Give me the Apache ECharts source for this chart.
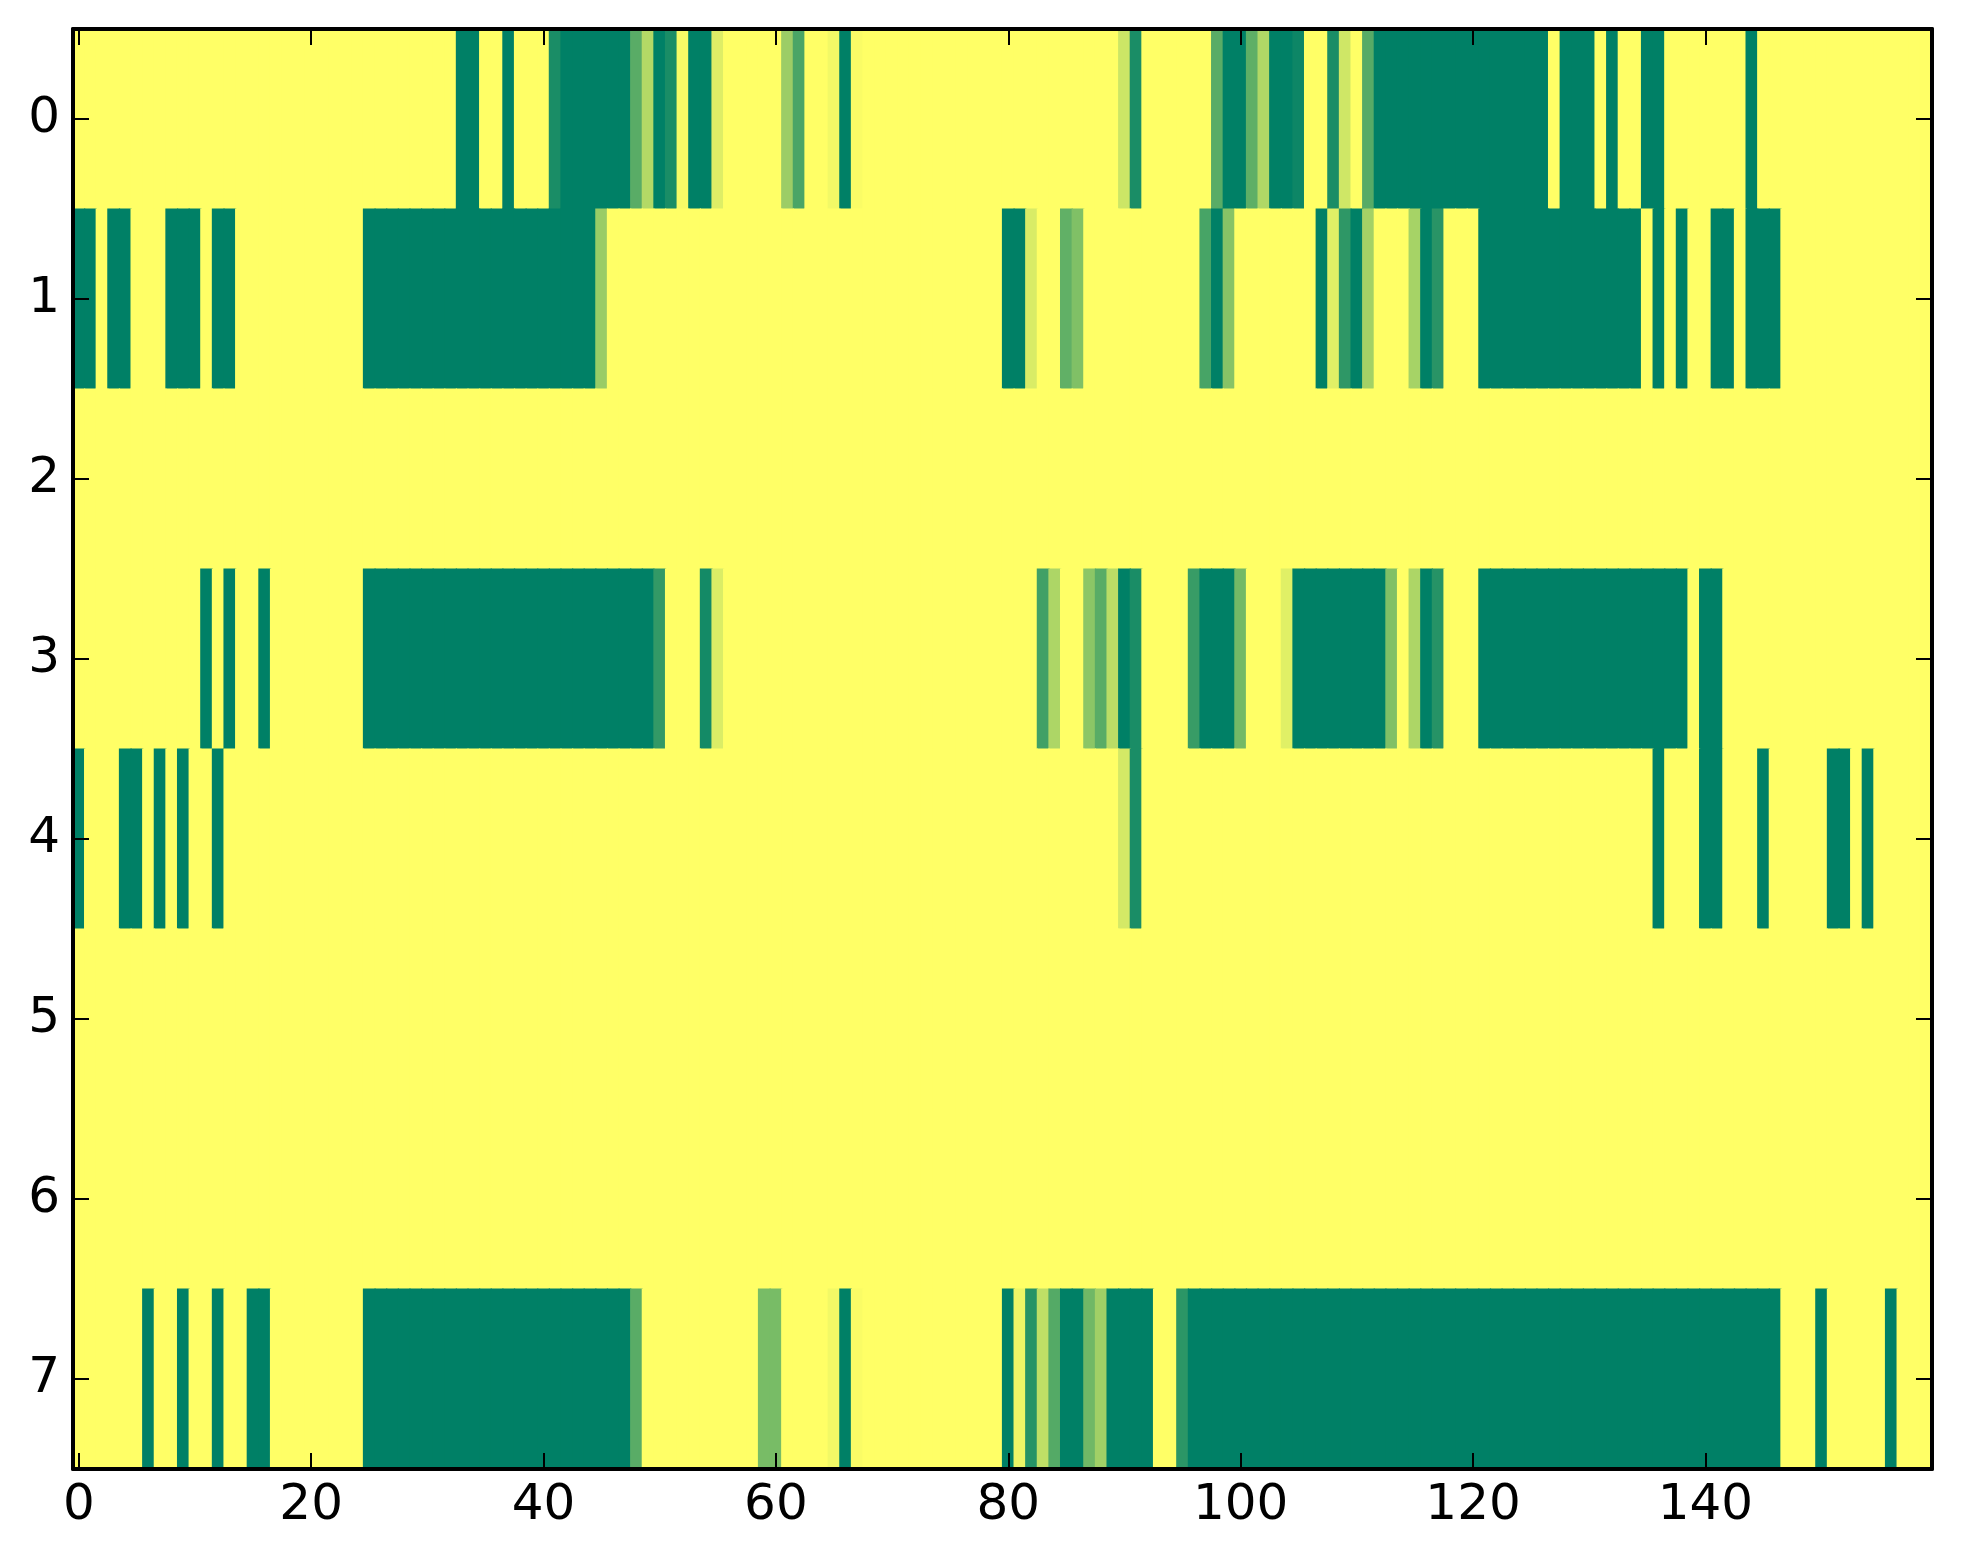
<!DOCTYPE html>
<html>
<head>
<meta charset="utf-8">
<script src="https://cdn.jsdelivr.net/npm/echarts@6/dist/echarts.min.js"></script>
<style>
html,body{margin:0;padding:0;background:#fff;}
#chart{width:1963px;height:1564px;}
</style>
</head>
<body>
<div id="chart"></div>
<script>
// Tick labels
var xTickLabels = ['0','20','40','60','80','100','120','140'];
var yLabels = ['0','1','2','3','4','5','6','7'];

// Cell values per row (160 columns each), 0 = yellow, 1 = green
var row0 = [
0,0,0,0,0,0,0,0,0,0,0,0,0,0,0,0,0,0,0,0,
0,0,0,0,0,0,0,0,0,0,0,0,0,1,1,0,0,1,0,0,
0,0.9,1,1,1,1,1,1,0.65,0.3,1,0.9,0.03,1,1,0.13,0,0,0,0,
0,0.39,0.71,0,0,0.05,1,0.02,0,0,0,0,0,0,0,0,0,0,0,0,
0,0,0,0,0,0,0,0,0,0,0.2,0.9,0,0,0,0,0,0,0.65,1,
1,0.63,0.31,1,1,0.95,0,0,0.9,0.19,0,0.66,1,1,1,1,1,1,1,1,
1,1,1,1,1,1,1,0,1,1,1,0,1,0,0,1,1,0,0,0,
0,0,0,0,1,0,0,0,0,0,0,0,0,0,0,0,0,0,0,0
];
var row1 = [
1,1,0,1,1,0,0,0,1,1,1,0,1,1,0,0,0,0,0,0,
0,0,0,0,0,1,1,1,1,1,1,1,1,1,1,1,1,1,1,1,
1,1,1,1,1,0.4,0,0,0,0,0,0,0,0,0,0,0,0,0,0,
0,0,0,0,0,0,0,0,0,0,0,0,0,0,0,0,0,0,0,0,
1,1,0.15,0,0,0.62,0.5,0,0,0,0,0,0,0,0,0,0,0.72,1,0.47,
0,0,0,0,0,0,0,1,0.12,0.82,1,0.36,0,0,0,0.35,1,0.84,0,0,
0,1,1,1,1,1,1,1,1,1,1,1,1,1,1,0,1,0,1,0,
0,1,1,0,1,1,1,0,0,0,0,0,0,0,0,0,0,0,0,0
];
var row2 = [
0,0,0,0,0,0,0,0,0,0,0,0,0,0,0,0,0,0,0,0,
0,0,0,0,0,0,0,0,0,0,0,0,0,0,0,0,0,0,0,0,
0,0,0,0,0,0,0,0,0,0,0,0,0,0,0,0,0,0,0,0,
0,0,0,0,0,0,0,0,0,0,0,0,0,0,0,0,0,0,0,0,
0,0,0,0,0,0,0,0,0,0,0,0,0,0,0,0,0,0,0,0,
0,0,0,0,0,0,0,0,0,0,0,0,0,0,0,0,0,0,0,0,
0,0,0,0,0,0,0,0,0,0,0,0,0,0,0,0,0,0,0,0,
0,0,0,0,0,0,0,0,0,0,0,0,0,0,0,0,0,0,0,0
];
var row3 = [
0,0,0,0,0,0,0,0,0,0,0,1,0,1,0,0,1,0,0,0,
0,0,0,0,0,1,1,1,1,1,1,1,1,1,1,1,1,1,1,1,
1,1,1,1,1,1,1,1,1,1,0.8,0,0,0,0.92,0.14,0,0,0,0,
0,0,0,0,0,0,0,0,0,0,0,0,0,0,0,0,0,0,0,0,
0,0,0,0.75,0.32,0,0,0.45,0.65,0.27,1,0.9,0,0,0,0,0.78,1,1,1,
0.55,0,0,0,0.12,1,1,1,1,1,1,1,1,0.5,0,0.32,1,0.85,0,0,
0,1,1,1,1,1,1,1,1,1,1,1,1,1,1,1,1,1,1,0,
1,1,0,0,0,0,0,0,0,0,0,0,0,0,0,0,0,0,0,0
];
var row4 = [
1,0,0,0,1,1,0,1,0,1,0,0,1,0,0,0,0,0,0,0,
0,0,0,0,0,0,0,0,0,0,0,0,0,0,0,0,0,0,0,0,
0,0,0,0,0,0,0,0,0,0,0,0,0,0,0,0,0,0,0,0,
0,0,0,0,0,0,0,0,0,0,0,0,0,0,0,0,0,0,0,0,
0,0,0,0,0,0,0,0,0,0,0.17,0.9,0,0,0,0,0,0,0,0,
0,0,0,0,0,0,0,0,0,0,0,0,0,0,0,0,0,0,0,0,
0,0,0,0,0,0,0,0,0,0,0,0,0,0,0,0,1,0,0,0,
1,1,0,0,0,1,0,0,0,0,0,1,1,0,1,0,0,0,0,0
];
var row5 = [
0,0,0,0,0,0,0,0,0,0,0,0,0,0,0,0,0,0,0,0,
0,0,0,0,0,0,0,0,0,0,0,0,0,0,0,0,0,0,0,0,
0,0,0,0,0,0,0,0,0,0,0,0,0,0,0,0,0,0,0,0,
0,0,0,0,0,0,0,0,0,0,0,0,0,0,0,0,0,0,0,0,
0,0,0,0,0,0,0,0,0,0,0,0,0,0,0,0,0,0,0,0,
0,0,0,0,0,0,0,0,0,0,0,0,0,0,0,0,0,0,0,0,
0,0,0,0,0,0,0,0,0,0,0,0,0,0,0,0,0,0,0,0,
0,0,0,0,0,0,0,0,0,0,0,0,0,0,0,0,0,0,0,0
];
var row6 = [
0,0,0,0,0,0,0,0,0,0,0,0,0,0,0,0,0,0,0,0,
0,0,0,0,0,0,0,0,0,0,0,0,0,0,0,0,0,0,0,0,
0,0,0,0,0,0,0,0,0,0,0,0,0,0,0,0,0,0,0,0,
0,0,0,0,0,0,0,0,0,0,0,0,0,0,0,0,0,0,0,0,
0,0,0,0,0,0,0,0,0,0,0,0,0,0,0,0,0,0,0,0,
0,0,0,0,0,0,0,0,0,0,0,0,0,0,0,0,0,0,0,0,
0,0,0,0,0,0,0,0,0,0,0,0,0,0,0,0,0,0,0,0,
0,0,0,0,0,0,0,0,0,0,0,0,0,0,0,0,0,0,0,0
];
var row7 = [
0,0,0,0,0,0,1,0,0,1,0,0,1,0,0,1,1,0,0,0,
0,0,0,0,0,1,1,1,1,1,1,1,1,1,1,1,1,1,1,1,
1,1,1,1,1,1,1,1,0.65,0,0,0,0,0,0,0,0,0,0,0.53,
0.53,0,0,0,0,0.05,1,0.02,0,0,0,0,0,0,0,0,0,0,0,0,
1,0.07,0.85,0.25,0.67,1,1,0.56,0.37,1,1,1,1,0,0,0.83,1,1,1,1,
1,1,1,1,1,1,1,1,1,1,1,1,1,1,1,1,1,1,1,1,
1,1,1,1,1,1,1,1,1,1,1,1,1,1,1,1,1,1,1,1,
1,1,1,1,1,1,1,0,0,0,1,0,0,0,0,0,1,0,0,0
];

var rows = [row0,row1,row2,row3,row4,row5,row6,row7];
var xCategories = [];
for (var i = 0; i < row0.length; i++) xCategories.push(String(i));
var heatData = [];
for (var r = 0; r < rows.length; r++) {
  for (var c = 0; c < rows[r].length; c++) heatData.push([c, r, rows[r][c]]);
}

var FONT = 'DejaVu Sans';
var FS = 50;
function xShow(idx, val) { return xTickLabels.indexOf(String(val)) >= 0; }

var axisLineStyle = {show:true, onZero:false, lineStyle:{color:'#000', width:4}};
var tickStyle = {show:true, inside:true, length:16, lineStyle:{color:'#000', width:2}};

function renderCell(params, api) {
  var p = api.coord([api.value(0), api.value(1)]);
  var sz = api.size([1, 1]);
  return {
    type:'rect',
    shape:{x:p[0]-sz[0]/2-0.6, y:p[1]-sz[1]/2-0.6, width:sz[0]+1.2, height:sz[1]+1.2},
    style:{fill:api.visual('color'), stroke:null}
  };
}

var chart = echarts.init(document.getElementById('chart'), null, {renderer:'canvas'});
chart.setOption({
  animation:false,
  backgroundColor:'#ffffff',
  grid:{left:73, right:31, top:29, bottom:95, containLabel:false},
  visualMap:{show:false, min:0, max:1, dimension:2, seriesIndex:0, inRange:{color:['#ffff66','#008066']}},
  xAxis:[
    {type:'category', data:xCategories, position:'bottom', z:10,
     axisLine:axisLineStyle,
     axisTick:Object.assign({}, tickStyle, {alignWithLabel:true, interval:xShow}),
     axisLabel:{show:true, interval:xShow, color:'#000', fontFamily:FONT, fontSize:FS, margin:12},
     splitLine:{show:false}},
    {type:'category', data:xCategories, position:'top', z:10,
     axisLine:axisLineStyle,
     axisTick:Object.assign({}, tickStyle, {alignWithLabel:true, interval:xShow}),
     axisLabel:{show:false}, splitLine:{show:false}}
  ],
  yAxis:[
    {type:'category', data:yLabels, inverse:true, position:'left', z:10,
     axisLine:axisLineStyle,
     axisTick:Object.assign({}, tickStyle, {alignWithLabel:true, interval:0}),
     axisLabel:{show:true, interval:0, color:'#000', fontFamily:FONT, fontSize:FS, margin:13},
     splitLine:{show:false}},
    {type:'category', data:yLabels, inverse:true, position:'right', z:10,
     axisLine:axisLineStyle,
     axisTick:Object.assign({}, tickStyle, {alignWithLabel:true, interval:0}),
     axisLabel:{show:false}, splitLine:{show:false}}
  ],
  series:[{
    type:'custom', xAxisIndex:0, yAxisIndex:0, data:heatData, z:1,
    encode:{x:0, y:1},
    renderItem:renderCell,
    clip:true,
    silent:true
  }]
});
</script>
</body>
</html>
